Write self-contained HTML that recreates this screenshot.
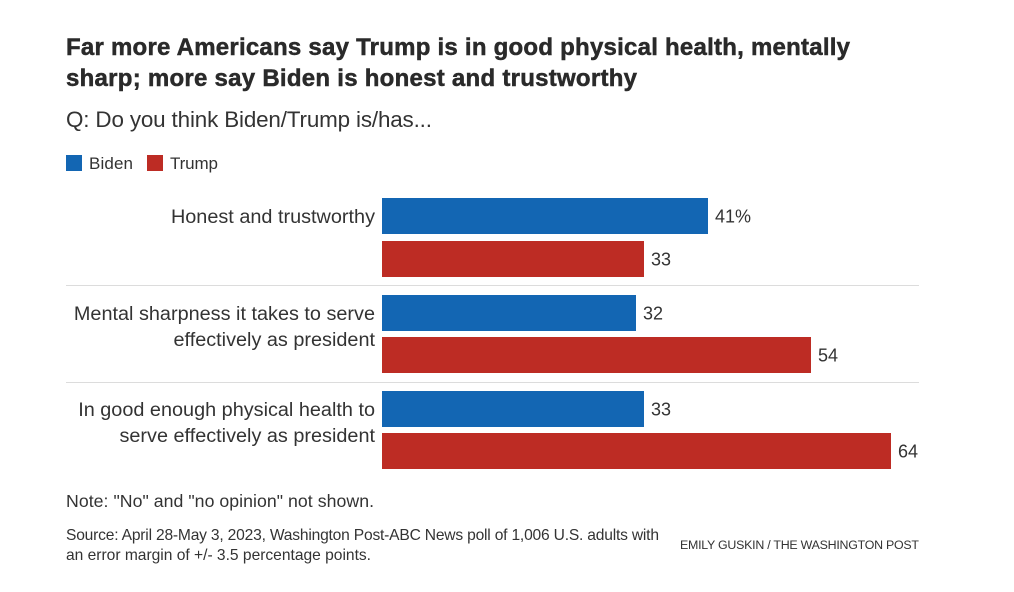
<!DOCTYPE html>
<html lang="en">
<head>
<meta charset="utf-8">
<title>Biden vs Trump poll chart</title>
<style>
html,body{margin:0;padding:0;background:#fff;}
svg{display:block;}
text{font-family:"Liberation Sans",sans-serif;fill:#333;}
.title{font-size:24px;font-weight:700;fill:#2a2a2a;stroke:#2a2a2a;stroke-width:.5px;}
.sub{font-size:22.4px;}
.legend{font-size:17px;}
.label{font-size:19.85px;text-anchor:end;}
.value{font-size:18px;}
.note{font-size:17.7px;}
.source{font-size:15.6px;}
.credit{font-size:12.4px;}
</style>
</head>
<body>
<svg id="chart" xmlns="http://www.w3.org/2000/svg" width="1014" height="592" viewBox="0 0 1014 592">
  <text class="title" x="66" y="55" textLength="784">Far more Americans say Trump is in good physical health, mentally</text>
  <text class="title" x="66" y="86" textLength="571">sharp; more say Biden is honest and trustworthy</text>
  <text class="sub" x="66" y="127" textLength="366">Q: Do you think Biden/Trump is/has...</text>
  <rect x="66" y="155" width="16" height="16" fill="#1366b3"/>
  <text class="legend" x="89" y="169" textLength="44">Biden</text>
  <rect x="147" y="155" width="16" height="16" fill="#bd2c24"/>
  <text class="legend" x="170" y="169" textLength="48">Trump</text>
  <g id="marks"></g>
  <text class="note" x="66" y="507" textLength="308">Note: "No" and "no opinion" not shown.</text>
  <text class="source" x="66" y="540" textLength="593">Source: April 28-May 3, 2023, Washington Post-ABC News poll of 1,006 U.S. adults with</text>
  <text class="source" x="66" y="560" textLength="305">an error margin of +/- 3.5 percentage points.</text>
  <text class="credit" x="680" y="549" textLength="239">EMILY GUSKIN / THE WASHINGTON POST</text>
</svg>
<script>
const categories = [
  ["Honest and trustworthy"],
  ["Mental sharpness it takes to serve", "effectively as president"],
  ["In good enough physical health to", "serve effectively as president"]
];
const bidenValues = [41, 32, 33];
const trumpValues = [33, 54, 64];
const valueSuffixes = ["%", "", ""];

const NS = "http://www.w3.org/2000/svg";
const root = document.getElementById("marks");
const xScale = v => v * 7.95;
const X0 = 382;
const groupY = i => 198.3 + 96.4 * i;
const BAR_H = 36;
const TRUMP_OFFSET = 42.3;

function make(tag, attrs, parent) {
  const el = document.createElementNS(NS, tag);
  for (const k in attrs) el.setAttribute(k, attrs[k]);
  parent.appendChild(el);
  return el;
}

function drawBar(value, top, color, suffix, seriesName, idx) {
  const w = Math.round(xScale(value));
  const bar = make("rect", {x: X0, y: Math.round(top), width: w, height: BAR_H, fill: color}, root);
  
  
  const t = make("text", {x: X0 + w + 7, y: Math.round(top) + 24.5, class: "value"}, root);
  
  
  t.textContent = value + suffix;
}

categories.forEach((lines, i) => {
  const top = groupY(i);
  if (i > 0) {
    const sep = make("rect", {x: 66, y: Math.round(top - 9.5), width: 853, height: 1, fill: "#dcdcdc"}, root);
    
    
  }
  lines.forEach((line, j) => {
    const t = make("text", {x: 375, y: Math.round(top) + 25 + j * 26, class: "label"}, root);
    
    
    t.textContent = line;
  });
  drawBar(bidenValues[i], top, "#1366b3", valueSuffixes[i], "biden", i);
  drawBar(trumpValues[i], top + TRUMP_OFFSET, "#bd2c24", "", "trump", i);
});
</script>
</body>
</html>
